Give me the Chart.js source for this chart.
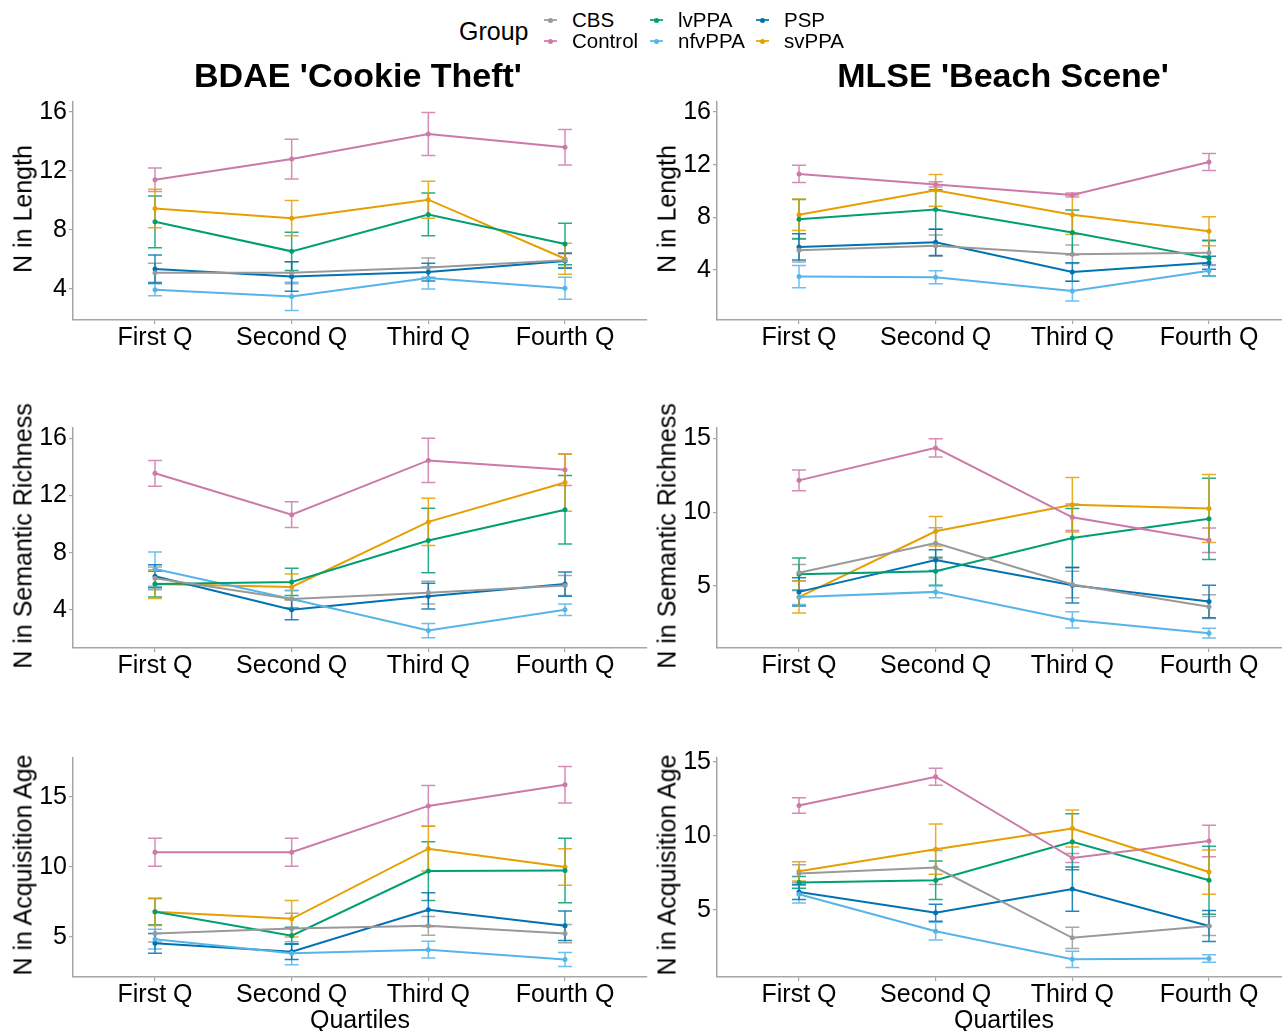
<!DOCTYPE html>
<html><head><meta charset="utf-8">
<script src="https://cdn.jsdelivr.net/npm/chart.js@4.4.1/dist/chart.umd.min.js"></script>
<style>
html,body{margin:0;padding:0;background:#fff}
body{width:1282px;height:1031px;overflow:hidden;position:relative;font-family:"Liberation Sans",Arial,sans-serif;color:#000}
canvas{position:absolute}
.ptitle{position:absolute;font-weight:bold;font-size:34px;white-space:nowrap;transform:translate(-50%,-50%)}
.ytitle{position:absolute;font-size:25px;white-space:nowrap;transform:translate(-50%,-50%) rotate(-90deg)}
.lgtitle{position:absolute;font-size:25px;white-space:nowrap}
.lgitem{position:absolute;font-size:20.5px;white-space:nowrap;line-height:21px}
.lgkey{position:absolute;width:13px;height:2px}
.lgdot{position:absolute;width:5px;height:5px;border-radius:50%}
</style></head>
<body>
<script>
// ---------- data ----------
const quartiles = ['First Q', 'Second Q', 'Third Q', 'Fourth Q'];
const groups = ['CBS', 'Control', 'lvPPA', 'nfvPPA', 'PSP', 'svPPA'];
const groupColors = ['#999999', '#CC79A7', '#009E73', '#56B4E9', '#0072B2', '#E69F00'];

// BDAE 'Cookie Theft' – N in Length (rows follow groups order)
const bdaeLengthMean = [
  [5.1, 5.1, 5.45, 5.95],
  [11.4, 12.8, 14.5, 13.6],
  [8.55, 6.55, 9.05, 7.05],
  [3.95, 3.5, 4.75, 4.05],
  [5.35, 4.85, 5.15, 5.9],
  [9.45, 8.8, 10.05, 6.05]
];
const bdaeLengthSE = [
  [0.65, 0.75, 0.65, 0.5],
  [0.8, 1.35, 1.45, 1.2],
  [1.75, 1.3, 1.45, 1.4],
  [0.4, 0.95, 0.75, 0.75],
  [0.95, 1.0, 0.6, 0.5],
  [1.3, 1.2, 1.25, 1.05]
];
// MLSE 'Beach Scene' – N in Length
const mlseLengthMean = [
  [5.5, 5.85, 5.2, 5.3],
  [11.3, 10.5, 9.7, 12.2],
  [7.85, 8.6, 6.85, 4.9],
  [3.5, 3.45, 2.4, 3.95],
  [5.75, 6.1, 3.85, 4.55],
  [8.2, 10.05, 8.2, 6.95]
];
const mlseLengthSE = [
  [0.9, 0.8, 0.7, 0.9],
  [0.65, 0.2, 0.15, 0.65],
  [1.5, 1.5, 1.7, 1.35],
  [0.85, 0.5, 0.75, 0.4],
  [1.0, 1.0, 0.7, 0.5],
  [1.2, 1.2, 1.5, 1.1]
];
// BDAE – N in Semantic Richness
const bdaeSemMean = [
  [6.2, 4.75, 5.2, 5.7],
  [13.55, 10.65, 14.45, 13.8],
  [5.8, 5.95, 8.85, 11.0],
  [6.85, 4.75, 2.55, 4.0],
  [6.35, 4.0, 4.95, 5.8],
  [5.8, 5.6, 10.15, 12.9]
];
const bdaeSemSE = [
  [0.8, 0.6, 0.8, 0.7],
  [0.9, 0.9, 1.55, 1.1],
  [0.9, 0.95, 2.25, 2.4],
  [1.2, 0.6, 0.5, 0.4],
  [0.8, 0.7, 0.9, 0.85],
  [1.0, 0.9, 1.65, 2.0]
];
// MLSE – N in Semantic Richness
const mlseSemMean = [
  [5.9, 7.9, 5.1, 3.6],
  [12.15, 14.35, 9.65, 8.1],
  [5.8, 6.0, 8.25, 9.55],
  [4.25, 4.6, 2.7, 1.8],
  [4.6, 6.75, 5.05, 3.95],
  [4.25, 8.7, 10.5, 10.25]
];
const mlseSemSE = [
  [0.55, 1.05, 0.9, 0.8],
  [0.7, 0.62, 0.9, 0.83],
  [1.1, 0.95, 2.0, 2.75],
  [0.5, 0.4, 0.55, 0.33],
  [0.95, 0.7, 1.2, 1.1],
  [1.08, 1.0, 1.85, 2.3]
];
// BDAE – N in Acquisition Age
const bdaeAcqMean = [
  [5.25, 5.6, 5.8, 5.25],
  [11.05, 11.05, 14.35, 15.85],
  [6.8, 5.1, 9.7, 9.75],
  [4.85, 3.85, 4.1, 3.4],
  [4.55, 3.95, 6.95, 5.8],
  [6.8, 6.3, 11.3, 10.0]
];
const bdaeAcqSE = [
  [0.6, 1.1, 0.67, 0.65],
  [1.0, 1.0, 1.45, 1.3],
  [0.95, 0.6, 2.1, 2.3],
  [0.7, 0.82, 0.6, 0.5],
  [0.7, 0.55, 1.2, 1.05],
  [0.97, 1.3, 1.6, 1.3]
];
// MLSE – N in Acquisition Age
const mlseAcqMean = [
  [7.45, 7.85, 3.1, 3.9],
  [12.05, 14.0, 8.5, 9.65],
  [6.85, 7.0, 9.6, 7.0],
  [6.05, 3.55, 1.65, 1.7],
  [6.2, 4.8, 6.4, 3.9],
  [7.6, 9.1, 10.5, 7.55]
];
const mlseAcqSE = [
  [0.6, 1.15, 0.72, 0.65],
  [0.53, 0.58, 0.3, 1.07],
  [0.4, 1.3, 1.9, 2.3],
  [0.6, 0.6, 0.55, 0.25],
  [0.5, 0.58, 1.5, 1.05],
  [0.65, 1.7, 1.25, 1.5]
];

const ticksBy4 = [4, 8, 12, 16];
const ticksBy5 = [5, 10, 15];

// ---------- layout / drawing ----------
const FONT = '"Liberation Sans", Arial, sans-serif';
Chart.defaults.font.family = FONT;

const errorBarPlugin = {
  id: 'errorBars',
  beforeDatasetsDraw(chart) {
    const ctx = chart.ctx, xs = chart.scales.x, ys = chart.scales.y;
    ctx.save();
    ctx.lineWidth = 1.5;
    chart.data.datasets.forEach((ds, di) => {
      ctx.strokeStyle = ds.borderColor;
      ctx.globalAlpha = 0.85;
      ds.data.forEach((p, i) => {
        const e = ds.errors[i];
        const px = xs.getPixelForValue(p.x);
        const t = ys.getPixelForValue(p.y + e);
        const b = ys.getPixelForValue(p.y - e);
        ctx.beginPath();
        ctx.moveTo(px, t); ctx.lineTo(px, b);
        ctx.moveTo(px - 7, t); ctx.lineTo(px + 7, t);
        ctx.moveTo(px - 7, b); ctx.lineTo(px + 7, b);
        ctx.stroke();
      });
    });
    ctx.restore();
  }
};

function addDiv(cls, text, css) {
  const d = document.createElement('div');
  d.className = cls; d.textContent = text;
  Object.assign(d.style, css);
  document.body.appendChild(d);
  return d;
}

function makePanel(means, ses, yMin, yMax, yTicks, yTitle, geo) {
  const cv = document.createElement('canvas');
  cv.width = geo.w; cv.height = geo.h;
  cv.style.left = geo.left + 'px'; cv.style.top = geo.top + 'px';
  cv.style.width = geo.w + 'px'; cv.style.height = geo.h + 'px';
  document.body.appendChild(cv);
  const axisColor = '#a6a6a6';
  new Chart(cv, {
    type: 'line',
    data: {
      datasets: groups.map((g, gi) => ({
        label: g,
        data: means[gi].map((v, i) => ({ x: i + 1, y: v })),
        errors: ses[gi],
        borderColor: groupColors[gi],
        backgroundColor: groupColors[gi],
        borderWidth: 2,
        pointRadius: 2.5,
        pointBorderWidth: 0,
        pointHoverRadius: 2.5,
        tension: 0,
        clip: false
      }))
    },
    options: {
      responsive: false,
      animation: false,
      events: [],
      layout: { padding: { top: 10, right: 5, left: 0, bottom: 0 } },
      plugins: { legend: { display: false }, tooltip: { enabled: false } },
      scales: {
        x: {
          type: 'linear', min: 0.4, max: 4.6,
          afterBuildTicks: s => { s.ticks = quartiles.map((q, i) => ({ value: i + 1 })); },
          afterFit: s => { s.height = geo.xh; },
          ticks: {
            callback: v => quartiles[v - 1],
            font: { size: 25, lineHeight: 1 }, color: '#000',
            padding: 2, maxRotation: 0, autoSkip: false
          },
          grid: { display: true, drawOnChartArea: false, drawTicks: true, tickLength: 4, color: axisColor, lineWidth: 1.2 },
          border: { display: true, color: axisColor, width: 1.5 },
          title: { display: geo.xTitle, text: 'Quartiles', color: '#000', font: { size: 25, lineHeight: 1 }, padding: 0 }
        },
        y: {
          type: 'linear', min: yMin, max: yMax,
          afterBuildTicks: s => { s.ticks = yTicks.map(v => ({ value: v })); },
          afterFit: s => { s.width = geo.yw; },
          ticks: { font: { size: 25, lineHeight: 1 }, color: '#000', padding: 2 },
          grid: { display: true, drawOnChartArea: false, drawTicks: true, tickLength: 4, color: axisColor, lineWidth: 1.2 },
          border: { display: true, color: axisColor, width: 1.5 }
        }
      }
    },
    plugins: [errorBarPlugin]
  });
  const cy = geo.top + 10 + (geo.h - 10 - geo.xh) / 2;
  addDiv('ytitle', yTitle, { left: geo.ytx + 'px', top: cy + 'px' });
}

const L = { left: 0, w: 652, yw: 73, ytx: 23 };
const R = { left: 647, w: 649, yw: 70, ytx: 667 };
const row1 = { top: 87, h: 278, xh: 45, xTitle: false };
const row2 = { top: 413, h: 280, xh: 45, xTitle: false };
const row3 = { top: 743, h: 291, xh: 57, xTitle: true };

makePanel(bdaeLengthMean, bdaeLengthSE, 1.9, 16.7, ticksBy4, 'N in Length', Object.assign({}, L, row1));
makePanel(mlseLengthMean, mlseLengthSE, 0.2, 16.8, ticksBy4, 'N in Length', Object.assign({}, R, row1));
makePanel(bdaeSemMean, bdaeSemSE, 1.33, 16.75, ticksBy4, 'N in Semantic Richness', Object.assign({}, L, row2));
makePanel(mlseSemMean, mlseSemSE, 0.8, 15.73, ticksBy5, 'N in Semantic Richness', Object.assign({}, R, row2));
makePanel(bdaeAcqMean, bdaeAcqSE, 2.15, 17.8, ticksBy5, 'N in Acquisition Age', Object.assign({}, L, row3));
makePanel(mlseAcqMean, mlseAcqSE, 0.45, 15.3, ticksBy5, 'N in Acquisition Age', Object.assign({}, R, row3));

// panel titles
addDiv('ptitle', "BDAE 'Cookie Theft'", { left: '358px', top: '75px' });
addDiv('ptitle', "MLSE 'Beach Scene'", { left: '1003px', top: '75px' });

// legend
addDiv('lgtitle', 'Group', { left: '459px', top: '17px' });
groups.forEach((g, i) => {
  const col = Math.floor(i / 2), row = i % 2;
  const kx = 544 + col * 106, ky = 20 + row * 21;
  const k = document.createElement('div');
  k.className = 'lgkey';
  Object.assign(k.style, { left: kx + 'px', top: (ky - 1) + 'px', background: groupColors[i], opacity: 0.85 });
  document.body.appendChild(k);
  const d = document.createElement('div');
  d.className = 'lgdot';
  Object.assign(d.style, { left: (kx + 4) + 'px', top: (ky - 2.5) + 'px', background: groupColors[i] });
  document.body.appendChild(d);
  addDiv('lgitem', g, { left: (kx + 28) + 'px', top: (ky - 11) + 'px' });
});
</script>
</body></html>
